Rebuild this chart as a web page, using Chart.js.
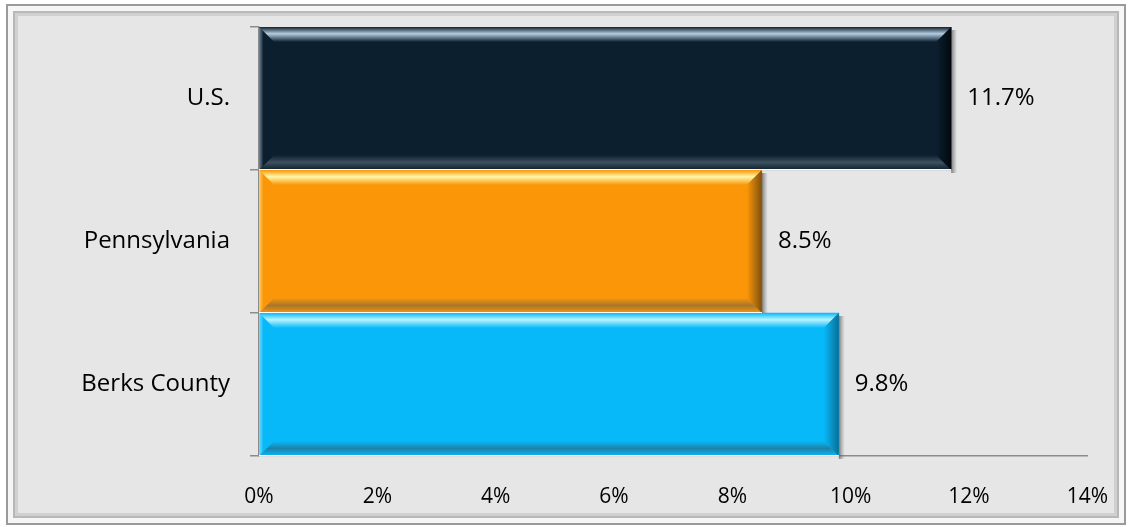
<!DOCTYPE html>
<html>
<head>
<meta charset="utf-8">
<script src="https://cdn.jsdelivr.net/npm/chart.js@4"></script>
<style>
  html, body { margin: 0; padding: 0; background: #ffffff; }
  #wrap { width: 1128px; height: 527px; }
</style>
</head>
<body>
<div id="wrap"><canvas id="chart1" width="1128" height="527"></canvas></div>
<script>
const places = ['U.S.', 'Pennsylvania', 'Berks County'];
const rates = [11.7, 8.5, 9.8];
const xTicks = [0, 2, 4, 6, 8, 10, 12, 14];

const barColors = ['#0c1f2f', '#fa9607', '#08b9fa'];
const lightEdge = ['#b4cde0', '#fff7a8', '#b8f4ff'];
const darkEdge = ['#3e505e', '#a8762c', '#1d82aa'];
const sideEdge = ['#02080e', '#7d5010', '#0a6f96'];

const FONT = '"Open Sans", "Noto Sans", sans-serif';

// grey bevelled frame + light background
const framePlugin = {
  id: 'frame',
  beforeDraw(chart) {
    const ctx = chart.ctx;
    const W = chart.width, H = chart.height;
    ctx.save();
    ctx.fillStyle = '#ffffff';
    ctx.fillRect(0, 0, W, H);
    ctx.fillStyle = '#9a9a9a';
    ctx.fillRect(6, 4, W - 8, H - 6);
    ctx.fillStyle = '#f6f6f6';
    ctx.fillRect(8, 6, W - 12, H - 10);
    ctx.fillStyle = '#b8b8b8';
    ctx.fillRect(13, 11, W - 22, H - 20);
    ctx.fillStyle = '#d0d0d0';
    ctx.fillRect(15, 13, W - 26, H - 24);
    ctx.fillStyle = '#e6e6e6';
    ctx.fillRect(18, 16, W - 32, H - 30);
    ctx.restore();
  }
};

// bevel look on each bar, plus the value labels
const bevelPlugin = {
  id: 'bevel',
  afterDatasetsDraw(chart) {
    const ctx = chart.ctx;
    const meta = chart.getDatasetMeta(0);
    meta.data.forEach((bar, i) => {
      const p = bar.getProps(['x', 'y', 'base', 'height'], true);
      const l = p.base, r = p.x, t = p.y - p.height / 2, b = p.y + p.height / 2;
      const bv = 15;
      ctx.save();
      // shadow on the right
      const sh = ctx.createLinearGradient(r, 0, r + 6, 0);
      sh.addColorStop(0, 'rgba(80,80,80,0.7)');
      sh.addColorStop(1, 'rgba(120,120,120,0)');
      ctx.fillStyle = sh;
      ctx.fillRect(r, t + 3, 6, b - t);
      // top
      let g = ctx.createLinearGradient(0, t, 0, t + bv);
      g.addColorStop(0, barColors[i]);
      g.addColorStop(0.45, lightEdge[i]);
      g.addColorStop(1, barColors[i]);
      ctx.fillStyle = g;
      ctx.beginPath();
      ctx.moveTo(l, t); ctx.lineTo(r, t); ctx.lineTo(r - bv, t + bv); ctx.lineTo(l + bv, t + bv);
      ctx.closePath(); ctx.fill();
      // bottom
      g = ctx.createLinearGradient(0, b - bv, 0, b);
      g.addColorStop(0, barColors[i]);
      g.addColorStop(0.5, darkEdge[i]);
      g.addColorStop(1, barColors[i]);
      ctx.fillStyle = g;
      ctx.beginPath();
      ctx.moveTo(l, b); ctx.lineTo(r, b); ctx.lineTo(r - bv, b - bv); ctx.lineTo(l + bv, b - bv);
      ctx.closePath(); ctx.fill();
      // right
      g = ctx.createLinearGradient(r - bv, 0, r, 0);
      g.addColorStop(0, barColors[i]);
      g.addColorStop(1, sideEdge[i]);
      ctx.fillStyle = g;
      ctx.beginPath();
      ctx.moveTo(r, t); ctx.lineTo(r, b); ctx.lineTo(r - bv, b - bv); ctx.lineTo(r - bv, t + bv);
      ctx.closePath(); ctx.fill();
      // left
      g = ctx.createLinearGradient(l, 0, l + bv, 0);
      g.addColorStop(0, lightEdge[i]);
      g.addColorStop(0.3, barColors[i]);
      ctx.fillStyle = g;
      ctx.globalAlpha = 0.6;
      ctx.beginPath();
      ctx.moveTo(l, t); ctx.lineTo(l, b); ctx.lineTo(l + bv, b - bv); ctx.lineTo(l + bv, t + bv);
      ctx.closePath(); ctx.fill();
      ctx.globalAlpha = 1;
      // thin white separator
      ctx.fillStyle = '#ffffff';
      ctx.fillRect(l, b - 1, r - l, 1.5);
      // value label
      ctx.fillStyle = '#000000';
      ctx.font = '24px ' + FONT;
      ctx.textAlign = 'left';
      ctx.textBaseline = 'middle';
      ctx.fillText(rates[i].toFixed(1) + '%', r + 16, p.y);
      ctx.restore();
    });
  }
};

const ctx1 = document.getElementById('chart1');

new Chart(ctx1, {
  type: 'bar',
  data: {
    labels: places,
    datasets: [{
      data: rates,
      backgroundColor: barColors,
      borderWidth: 0,
      barPercentage: 1,
      categoryPercentage: 1
    }]
  },
  options: {
    indexAxis: 'y',
    responsive: false,
    animation: false,
    layout: { padding: { top: 27, right: 20, left: 0, bottom: 0 } },
    plugins: {
      legend: { display: false },
      tooltip: { enabled: false }
    },
    scales: {
      x: {
        min: 0,
        max: 14,
        afterBuildTicks(scale) {
          scale.ticks = xTicks.map(v => ({ value: v }));
        },
        afterFit(scale) { scale.height = 527 - 456; },
        grid: { display: false },
        border: { display: true, color: '#8c8c8c', width: 1.5 },
        ticks: {
          padding: 20,
          color: '#000000',
          font: { family: FONT, size: 21 },
          callback: v => v + '%'
        }
      },
      y: {
        afterFit(scale) {
          scale.width = 259;
          scale.paddingTop = 0;
          scale.paddingBottom = 0;
        },
        grid: { drawOnChartArea: false, drawTicks: true, tickLength: 9, color: '#8c8c8c', lineWidth: 1.5 },
        border: { display: true, color: '#8c8c8c', width: 1.5 },
        ticks: {
          padding: 20,
          color: '#000000',
          font: { family: FONT, size: 24 }
        }
      }
    }
  },
  plugins: [framePlugin, bevelPlugin]
});
</script>
</body>
</html>
